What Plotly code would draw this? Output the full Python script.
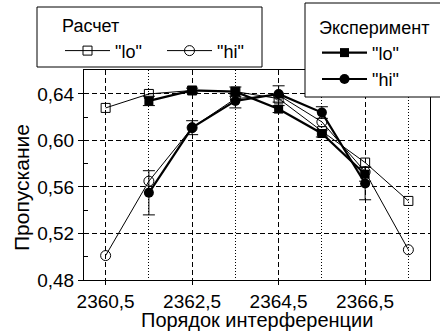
import plotly.graph_objects as go

orders = [2360.5, 2361.5, 2362.5, 2363.5, 2364.5, 2365.5, 2366.5, 2367.5]
calc_lo = [0.628, 0.640, 0.643, 0.642, 0.636, 0.608, 0.581, 0.548]
calc_hi = [0.501, 0.565, 0.611, 0.636, 0.639, 0.616, 0.573, 0.506]

exp_orders = [2361.5, 2362.5, 2363.5, 2364.5, 2365.5, 2366.5]
exp_lo = [0.634, 0.643, 0.642, 0.627, 0.606, 0.571]
exp_lo_err = [0.004, 0.002, 0.004, 0.003, 0.003, 0.006]
exp_hi = [0.555, 0.611, 0.634, 0.640, 0.624, 0.563]
exp_hi_err = [0.019, 0.006, 0.006, 0.007, 0.005, 0.014]

x_tickvals = [2360.5, 2362.5, 2364.5, 2366.5]
x_ticktext = ["2360,5", "2362,5", "2364,5", "2366,5"]
x_minorvals = [2361.5, 2363.5, 2365.5, 2367.5]
y_tickvals = [0.48, 0.52, 0.56, 0.60, 0.64]
y_ticktext = ["0,48", "0,52", "0,56", "0,60", "0,64"]
y_minorvals = [0.50, 0.54, 0.58, 0.62]

FONT = "Liberation Sans, Arial, sans-serif"

# plot area in pixels: x 84..430, y 70..280
L, R, T, B = 84, 430, 70, 280
W, H = R - L, B - T


def px_x(p):
    return (p - L) / W


def px_y(p):
    return (B - p) / H


fig = go.Figure()
fig.add_trace(go.Scatter(x=orders, y=calc_lo, mode="lines+markers", name='"lo"',
                         line=dict(color="black", width=1),
                         marker=dict(symbol="square-open", size=9, color="black", line=dict(width=1)),
                         legend="legend"))
fig.add_trace(go.Scatter(x=orders, y=calc_hi, mode="lines+markers", name='"hi"',
                         line=dict(color="black", width=1),
                         marker=dict(symbol="circle-open", size=10, color="black", line=dict(width=1)),
                         legend="legend"))
fig.add_trace(go.Scatter(x=exp_orders, y=exp_lo, mode="lines+markers", name='"lo"',
                         line=dict(color="black", width=2.2),
                         marker=dict(symbol="square", size=9, color="black"),
                         error_y=dict(type="data", array=exp_lo_err, color="black", thickness=1, width=6),
                         legend="legend2"))
fig.add_trace(go.Scatter(x=exp_orders, y=exp_hi, mode="lines+markers", name='"hi"',
                         line=dict(color="black", width=2.2),
                         marker=dict(symbol="circle", size=10, color="black"),
                         error_y=dict(type="data", array=exp_hi_err, color="black", thickness=1, width=6),
                         legend="legend2"))

shapes = [
    dict(type="rect", xref="paper", yref="paper",
         x0=px_x(37), x1=px_x(262), y0=px_y(67), y1=px_y(7),
         line=dict(color="black", width=1), fillcolor="white", layer="above"),
    dict(type="rect", xref="paper", yref="paper",
         x0=px_x(305), x1=px_x(442), y0=px_y(97), y1=px_y(3),
         line=dict(color="black", width=1), fillcolor="white", layer="above"),
]

annotations = [
    dict(text="Порядок интерференции", xref="paper", yref="paper",
         x=px_x(257), y=px_y(320), xanchor="center", yanchor="middle",
         showarrow=False, font=dict(size=20)),
    dict(text="Пропускание", xref="paper", yref="paper",
         x=px_x(21), y=px_y(188), xanchor="center", yanchor="middle",
         textangle=-90, showarrow=False, font=dict(size=21)),
]

fig.update_layout(
    width=440, height=331,
    margin=dict(l=L, r=440 - R, t=T, b=331 - B, autoexpand=False),
    paper_bgcolor="white", plot_bgcolor="white",
    font=dict(family=FONT, size=19, color="black"),
    shapes=shapes,
    annotations=annotations,
    xaxis=dict(range=[2360, 2368], tickmode="array", tickvals=x_tickvals, ticktext=x_ticktext,
               ticks="outside", ticklen=4, tickcolor="black",
               showline=True, linecolor="black", linewidth=1, mirror=True,
               showgrid=True, gridcolor="black", gridwidth=1, griddash="5px,3px",
               zeroline=False,
               minor=dict(tickmode="array", tickvals=x_minorvals, ticks="", showgrid=True,
                          gridcolor="black", gridwidth=1, griddash="1px,2px")),
    yaxis=dict(range=[0.48, 0.6606], tickmode="array", tickvals=y_tickvals, ticktext=y_ticktext,
               ticks="outside", ticklen=5, tickcolor="black",
               showline=True, linecolor="black", linewidth=1, mirror=True,
               showgrid=True, gridcolor="black", gridwidth=1, griddash="5px,3px",
               zeroline=False,
               minor=dict(tickmode="array", tickvals=y_minorvals, ticks="inside", ticklen=4,
                          tickcolor="black", showgrid=False)),
    legend=dict(x=px_x(60), y=px_y(9), xanchor="left", yanchor="top", orientation="h",
                bgcolor="rgba(0,0,0,0)", borderwidth=0,
                title=dict(text="Расчет", side="top", font=dict(size=18)),
                font=dict(size=18), tracegroupgap=0, itemwidth=45,
                entrywidth=42, entrywidthmode="pixels"),
    legend2=dict(x=px_x(317), y=px_y(11), xanchor="left", yanchor="top", orientation="v",
                 bgcolor="rgba(0,0,0,0)", borderwidth=0,
                 title=dict(text="Эксперимент", side="top", font=dict(size=18)),
                 font=dict(size=18), tracegroupgap=0, itemwidth=45),
    showlegend=True,
)

fig.write_html("out.html", config={"displayModeBar": False},
               post_script="document.body.style.margin='0';document.body.style.padding='0';")
